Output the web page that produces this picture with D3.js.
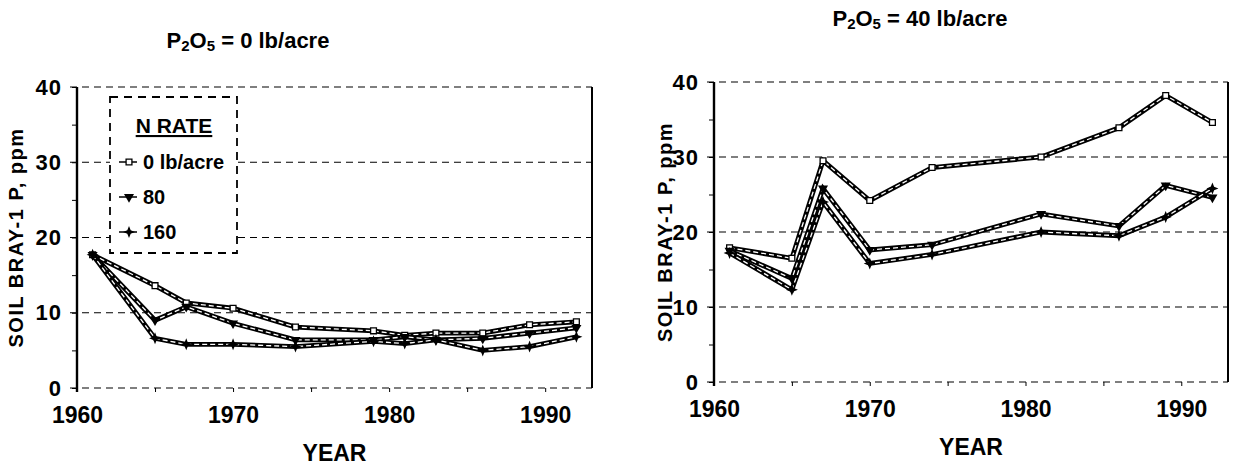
<!DOCTYPE html>
<html><head><meta charset="utf-8">
<script src="https://cdn.jsdelivr.net/npm/d3@7"></script>
<style>
html,body{margin:0;padding:0;background:#fff;}
svg{display:block;font-family:"Liberation Sans",Arial,Helvetica,sans-serif;}
</style></head>
<body>
<svg id="chart" width="1236" height="473"></svg>
<script>
// ---- data ----
const seriesNames = ["0 lb/acre", "80", "160"];
const yTicks = [0, 10, 20, 30, 40];
const xTickLabels = [1960, 1970, 1980, 1990];

// Left panel: P2O5 = 0 lb/acre
const yearsLeft = [1961, 1965, 1967, 1970, 1974, 1979, 1981, 1983, 1986, 1989, 1992];
const leftN0   = [17.7, 13.6, 11.3, 10.6, 8.1, 7.6, 7.0, 7.3, 7.3, 8.4, 8.8];
const leftN80  = [17.7, 9.0, 10.8, 8.6, 6.4, 6.4, 6.8, 6.4, 6.6, 7.3, 8.0];
const leftN160 = [17.7, 6.6, 5.8, 5.8, 5.5, 6.2, 5.9, 6.4, 5.0, 5.5, 6.8];

// Right panel: P2O5 = 40 lb/acre
const yearsRight = [1961, 1965, 1967, 1970, 1974, 1981, 1986, 1989, 1992];
const rightN0   = [17.9, 16.5, 29.5, 24.2, 28.6, 30.0, 33.9, 38.2, 34.6];
const rightN80  = [17.5, 13.8, 25.8, 17.6, 18.3, 22.4, 20.8, 26.2, 24.6];
const rightN160 = [17.2, 12.3, 24.0, 15.8, 17.0, 20.0, 19.5, 22.0, 25.8];

const svg = d3.select("#chart");

function marker(g, type, x, y) {
  if (type === 0) {
    g.append("path").attr("d", d3.symbol(d3.symbolSquare, 34)())
      .attr("transform", `translate(${x},${y})`)
      .attr("fill", "#fff").attr("stroke", "#000").attr("stroke-width", 1.3);
  } else if (type === 1) {
    g.append("path").attr("d", d3.symbol(d3.symbolTriangle, 44)())
      .attr("transform", `translate(${x},${y}) rotate(180)`)
      .attr("fill", "#000");
  } else {
    g.append("path").attr("d", "M0,-6L1.7,-1.7L6,0L1.7,1.7L0,6L-1.7,1.7L-6,0L-1.7,-1.7Z")
      .attr("transform", `translate(${x},${y})`)
      .attr("fill", "#000");
  }
}

function panel(opts) {
  const {x0, x1, y0, y1, years, series, title, titleX, titleY, yLabelX} = opts;
  const x = d3.scaleLinear().domain([1960, 1993]).range([x0, x1]);
  const y = d3.scaleLinear().domain([0, 40]).range([y0, y1]);
  const g = svg.append("g");

  // gridlines (dashed)
  g.selectAll(".grid").data(yTicks).join("line")
    .attr("x1", x0 - 7).attr("x2", x1)
    .attr("y1", d => y(d)).attr("y2", d => y(d))
    .attr("stroke", "#000").attr("stroke-width", 1.2)
    .attr("stroke-dasharray", "7,5");

  // right border
  g.append("line").attr("x1", x1).attr("x2", x1).attr("y1", y(40)).attr("y2", y(0))
    .attr("stroke", "#000").attr("stroke-width", 2);

  // y axis
  const ya = g.append("g").attr("transform", `translate(${x0},0)`)
    .call(d3.axisLeft(y).tickValues(d3.range(0, 41, 5)).tickSize(5).tickPadding(10)
      .tickFormat(d => d % 10 === 0 ? d : ""));
  ya.select(".domain").attr("stroke-width", 2.4).attr("d", `M0,${y(40)}V${y(0) + 4}`);
  ya.selectAll(".tick line").attr("stroke-width", 1);
  ya.selectAll("text").attr("font-size", 22).attr("font-weight", "bold").attr("fill", "#000")
    .attr("letter-spacing", 1);

  // x axis
  const xa = g.append("g").attr("transform", `translate(0,${y0})`)
    .call(d3.axisBottom(x).tickValues(d3.range(1960, 1991, 5)).tickSize(4).tickPadding(15)
      .tickFormat(d => xTickLabels.includes(d) ? d : ""));
  xa.select(".domain").remove();
  xa.selectAll("text").attr("font-size", 23).attr("font-weight", "bold").attr("fill", "#000");

  // lines
  const line = d3.line().x((d, i) => x(years[i])).y(d => y(d));
  series.forEach((vals) => {
    g.append("path").datum(vals).attr("d", line)
      .attr("fill", "none").attr("stroke", "#000").attr("stroke-width", 4.8)
      .attr("stroke-linejoin", "miter");
    g.append("path").datum(vals).attr("d", line)
      .attr("fill", "none").attr("stroke", "#fff").attr("stroke-width", 1.3)
      .attr("stroke-dasharray", "5,3");
  });
  series.forEach((vals, si) => {
    vals.forEach((v, i) => marker(g, si, x(years[i]), y(v)));
  });

  // title
  const t = g.append("text").attr("x", titleX).attr("y", titleY)
    .attr("text-anchor", "middle").attr("font-size", 22).attr("font-weight", "bold");
  t.append("tspan").text("P");
  t.append("tspan").text("2").attr("font-size", 15).attr("dy", 3);
  t.append("tspan").text("O").attr("dy", -3);
  t.append("tspan").text("5").attr("font-size", 15).attr("dy", 3);
  t.append("tspan").text(" = " + title).attr("dy", -3);

  // axis titles
  g.append("text").attr("x", (x0 + x1) / 2).attr("y", y0 + 73)
    .attr("text-anchor", "middle").attr("font-size", 23).attr("font-weight", "bold")
    .text("YEAR");
  g.append("text")
    .attr("transform", `translate(${yLabelX},${(y0 + y1) / 2}) rotate(-90)`)
    .attr("text-anchor", "middle").attr("font-size", 20).attr("font-weight", "bold")
    .attr("letter-spacing", 1.5)
    .text("SOIL BRAY-1 P, ppm");
  return {g, x, y};
}

panel({x0: 77, x1: 592, y0: 388, y1: 87, years: yearsLeft,
  series: [leftN0, leftN80, leftN160], title: "0 lb/acre", titleX: 248, titleY: 48, yLabelX: 23});
panel({x0: 714, x1: 1228, y0: 382, y1: 82, years: yearsRight,
  series: [rightN0, rightN80, rightN160], title: "40 lb/acre", titleX: 920, titleY: 26, yLabelX: 672});

// legend (left panel)
const lg = svg.append("g");
lg.append("rect").attr("x", 110).attr("y", 97).attr("width", 127).attr("height", 156)
  .attr("fill", "#fff").attr("stroke", "#000").attr("stroke-width", 1.8)
  .attr("stroke-dasharray", "8,6");
lg.append("text").attr("x", 174).attr("y", 133).attr("text-anchor", "middle")
  .attr("font-size", 21).attr("font-weight", "bold").attr("text-decoration", "underline")
  .text("N RATE");
seriesNames.forEach((name, i) => {
  const yy = [162, 197, 232][i];
  lg.append("line").attr("x1", 119).attr("x2", 137).attr("y1", yy).attr("y2", yy)
    .attr("stroke", "#000").attr("stroke-width", 1.5);
  marker(lg, i, 129, yy);
  lg.append("text").attr("x", 143).attr("y", yy + 7).attr("font-size", 20)
    .attr("font-weight", "bold").text(name);
});
</script>
</body></html>
